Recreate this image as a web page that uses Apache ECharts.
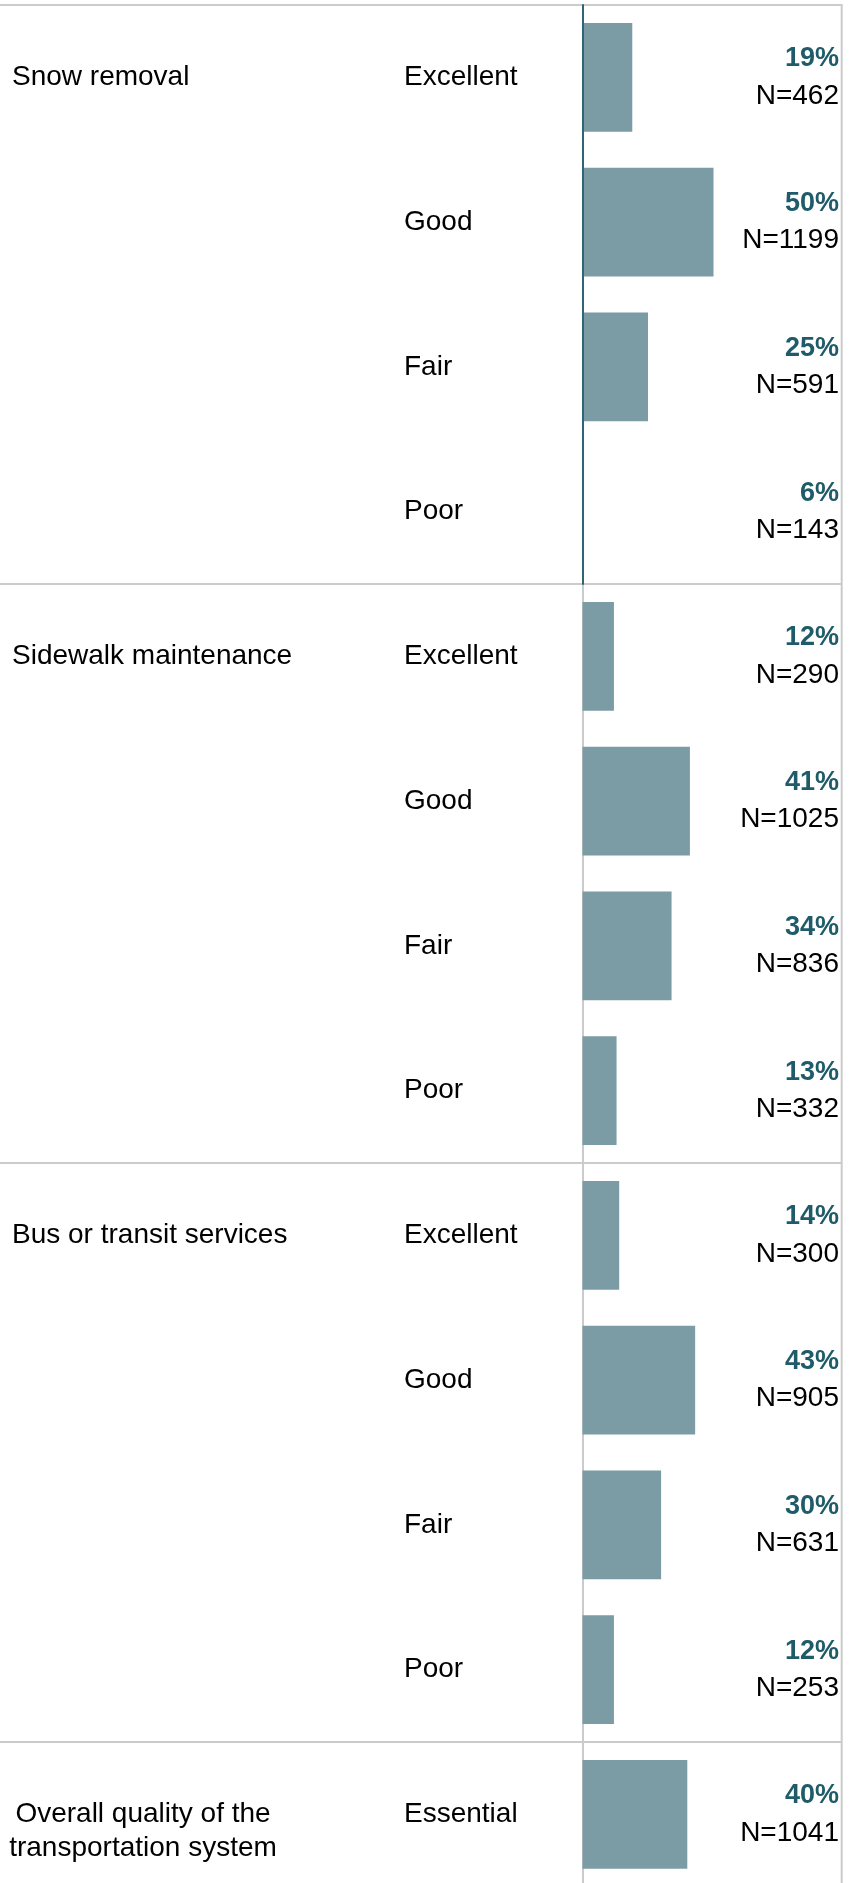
<!DOCTYPE html>
<html>
<head>
<meta charset="utf-8">
<script src="https://cdn.jsdelivr.net/npm/echarts@6/dist/echarts.min.js"></script>
<style>
html,body{margin:0;padding:0;background:#fff;}
#chart{width:856px;height:1883px;}
</style>
</head>
<body>
<div id="chart"></div>
<script>
// ---- data ----
var groups = ['Snow removal', 'Sidewalk maintenance', 'Bus or transit services', 'Overall quality of the\ntransportation system'];
var groupSizes = [4, 4, 4, 1];
var ratings = ['Excellent', 'Good', 'Fair', 'Poor',
               'Excellent', 'Good', 'Fair', 'Poor',
               'Excellent', 'Good', 'Fair', 'Poor',
               'Essential'];
var percents = [19, 50, 25, 6,
                12, 41, 34, 13,
                14, 43, 30, 12,
                40];
var counts = [462, 1199, 591, 143,
              290, 1025, 836, 332,
              300, 905, 631, 253,
              1041];
var hiddenBars = [3]; // bar not drawn in the reference (Snow removal / Poor)

// ---- build ----
var rowKeys = ratings.map(function (r, i) { return 'row' + i; });
var groupStart = {};
var acc = 0;
groups.forEach(function (g, gi) { groupStart[acc] = gi; acc += groupSizes[gi]; });

var ROW_H = 144.75;
var TOP = 5;
var FULL_H = ROW_H * ratings.length;
var BAR_LEFT = 582.5;
var BAR_W = 262;
var FONT = 'Liberation Sans, Arial, Helvetica, sans-serif';

var groupAxisData = rowKeys.map(function (k, i) {
  var item = { value: k };
  if (groupStart[i] !== undefined && groups[groupStart[i]].indexOf('\n') >= 0) {
    item.textStyle = { padding: [34, 0, 0, 0] };
  }
  return item;
});

var chart = echarts.init(document.getElementById('chart'), null, { renderer: 'canvas' });
var option = {
  animation: false,
  backgroundColor: '#ffffff',
  textStyle: { fontFamily: FONT },
  grid: [
    { left: -6, top: TOP, width: 847.7, height: FULL_H, show: true, borderColor: '#cbcbcb', borderWidth: 2, outerBoundsMode: 'none', containLabel: false },
    { left: BAR_LEFT, top: TOP, width: BAR_W, height: FULL_H, outerBoundsMode: 'none', containLabel: false },
    { left: BAR_LEFT, top: TOP, width: BAR_W, height: ROW_H * groupSizes[0], outerBoundsMode: 'none', containLabel: false }
  ],
  xAxis: [
    { type: 'value', gridIndex: 0, min: 0, max: 100, show: false },
    { type: 'value', gridIndex: 1, min: 0, max: 100, show: false },
    { type: 'value', gridIndex: 2, min: 0, max: 100, show: false }
  ],
  yAxis: [
    {
      type: 'category', gridIndex: 0, inverse: true, data: groupAxisData,
      axisLine: { show: false }, axisTick: { show: false },
      splitLine: {
        show: true,
        interval: function (index) { return index > 0 && groupStart[index] !== undefined; },
        lineStyle: { color: '#cbcbcb', width: 2 }
      },
      axisLabel: {
        inside: true, margin: 18, align: 'left', interval: 0,
        formatter: function (v, i) {
          if (groupStart[i] === undefined) return '';
          var g = groups[groupStart[i]];
          if (g.indexOf('\n') >= 0) {
            return g.split('\n').map(function (l) { return '{c|' + l + '}'; }).join('\n');
          }
          return '{a|' + g + '}';
        },
        rich: {
          a: { fontFamily: FONT, fontSize: 28, color: '#000000' },
          c: { fontFamily: FONT, fontSize: 28, color: '#000000', width: 262, align: 'center', lineHeight: 34 }
        }
      }
    },
    {
      type: 'category', gridIndex: 1, inverse: true, data: rowKeys,
      axisLine: { show: true, lineStyle: { color: '#cbcbcb', width: 2 } },
      axisTick: { show: false }, splitLine: { show: false },
      axisLabel: {
        margin: BAR_LEFT - 404, align: 'left', interval: 0,
        fontFamily: FONT, fontSize: 28, color: '#000000',
        formatter: function (v, i) { return ratings[i]; }
      }
    },
    {
      type: 'category', gridIndex: 1, position: 'right', inverse: true, data: rowKeys,
      axisLine: { show: false }, axisTick: { show: false }, splitLine: { show: false },
      axisLabel: {
        inside: true, margin: 5.5, align: 'right', interval: 0,
        formatter: function (v, i) {
          return '{p|' + percents[i] + '%}\n{n|N=' + counts[i] + '}';
        },
        rich: {
          p: { fontFamily: FONT, fontSize: 27, fontWeight: 'bold', color: '#1f5b69', lineHeight: 37, align: 'right' },
          n: { fontFamily: FONT, fontSize: 28, color: '#000000', lineHeight: 37, align: 'right' }
        }
      }
    },
    {
      type: 'category', gridIndex: 2, inverse: true, data: rowKeys.slice(0, groupSizes[0]), z: 5,
      axisLine: { show: true, lineStyle: { color: '#2e6573', width: 2 } },
      axisTick: { show: false }, axisLabel: { show: false }, splitLine: { show: false }
    }
  ],
  series: [
    {
      type: 'bar', xAxisIndex: 1, yAxisIndex: 1,
      barCategoryGap: '25%',
      data: percents.map(function (p, i) {
        var d = { value: p };
        if (hiddenBars.indexOf(i) >= 0) d.itemStyle = { opacity: 0 };
        return d;
      }),
      itemStyle: { color: '#7b9ca5' },
      silent: true
    }
  ]
};
chart.setOption(option);
</script>
</body>
</html>
